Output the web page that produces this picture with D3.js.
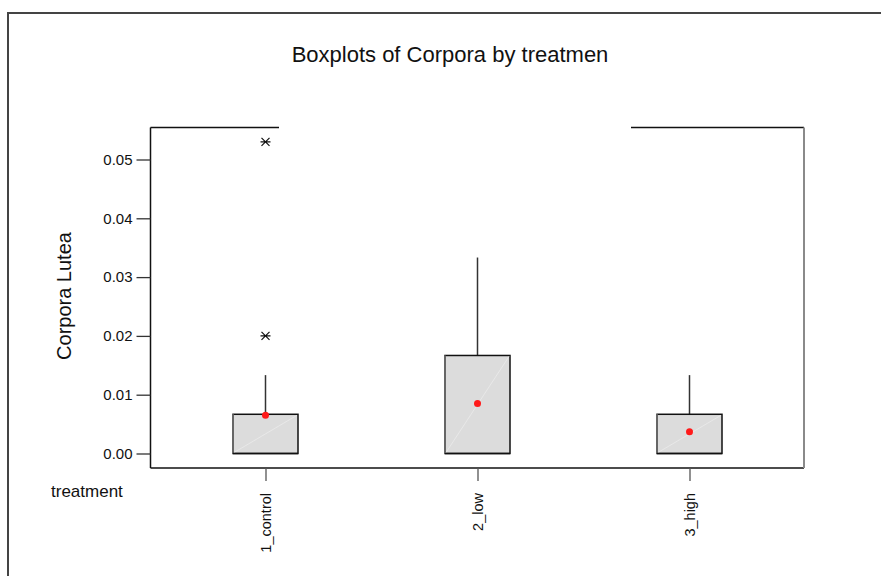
<!DOCTYPE html>
<html>
<head>
<meta charset="utf-8">
<script src="https://cdn.jsdelivr.net/npm/d3@7"></script>
<style>
  html, body { margin: 0; padding: 0; background: #fff; overflow: hidden; }
  svg { display: block; font-family: "Liberation Sans", Arial, sans-serif; }
</style>
</head>
<body>
<svg id="chart" width="881" height="576"></svg>
<script>
// Corpora lutea by treatment group
const categories = ["1_control", "2_low", "3_high"];
const q1 = [0, 0, 0];
const median = [0, 0, 0];
const q3 = [0.00667, 0.01667, 0.00667];
const whiskerLow = [0, 0, 0];
const whiskerHigh = [0.01333, 0.03333, 0.01333];
const means = [0.0065, 0.0085, 0.0037];
const outlierCats = ["1_control", "1_control"];
const outlierValues = [0.053, 0.02];
const yTicks = [0, 0.01, 0.02, 0.03, 0.04, 0.05];

const svg = d3.select("#chart");

// Layout
const frame = { left: 150.5, right: 804, top: 127.5, bottom: 468 };
const boxWidth = 65;

const y = d3.scaleLinear().domain([0, 0.05]).range([453.5, 159.5]);
const x = d3.scalePoint().domain(categories).range([265.5, 689.5]);

// Outer border (runs off the right and bottom edges)
svg.append("path")
  .attr("d", "M8,600 L8,13 L900,13")
  .attr("fill", "none")
  .attr("stroke", "#444")
  .attr("stroke-width", 2);

// Title
svg.append("text")
  .attr("x", 450).attr("y", 62)
  .attr("text-anchor", "middle")
  .attr("font-size", 22)
  .attr("fill", "#111")
  .text("Boxplots of Corpora by treatmen");

// Plot frame
const fr = svg.append("g");
fr.append("line").attr("x1", frame.left).attr("x2", frame.left)
  .attr("y1", frame.top).attr("y2", frame.bottom)
  .attr("stroke", "#111").attr("stroke-width", 1.5);
fr.append("line").attr("x1", frame.left).attr("x2", 279)
  .attr("y1", frame.top).attr("y2", frame.top)
  .attr("stroke", "#111").attr("stroke-width", 1.5);
fr.append("line").attr("x1", 631).attr("x2", frame.right)
  .attr("y1", frame.top).attr("y2", frame.top)
  .attr("stroke", "#111").attr("stroke-width", 1.5);
fr.append("line").attr("x1", frame.left).attr("x2", frame.right)
  .attr("y1", frame.bottom).attr("y2", frame.bottom)
  .attr("stroke", "#111").attr("stroke-width", 1.5);
fr.append("line").attr("x1", frame.right).attr("x2", frame.right)
  .attr("y1", frame.top).attr("y2", frame.bottom)
  .attr("stroke", "#8a8a8a").attr("stroke-width", 2);

// Y axis
const yAxis = svg.append("g")
  .attr("transform", `translate(${frame.left},0)`)
  .call(d3.axisLeft(y).tickValues(yTicks).tickFormat(d3.format(".2f"))
    .tickSize(14).tickPadding(4));
yAxis.select(".domain").remove();
yAxis.selectAll(".tick line").attr("stroke", "#333").attr("stroke-width", 1.3);
yAxis.selectAll(".tick text")
  .attr("font-size", 15)
  .attr("font-family", "'Liberation Sans', Arial, sans-serif")
  .attr("fill", "#111");

// X axis
const xAxis = svg.append("g")
  .attr("transform", `translate(0,${frame.bottom})`)
  .call(d3.axisBottom(x).tickSize(13).tickFormat(""));
xAxis.select(".domain").remove();
xAxis.selectAll(".tick line").attr("stroke", "#555").attr("stroke-width", 1.3);

svg.selectAll(".xlab")
  .data(categories)
  .join("text")
  .attr("class", "xlab")
  .attr("transform", d => `translate(${x(d) + 5},493) rotate(-90)`)
  .attr("text-anchor", "end")
  .attr("font-size", 14.5)
  .attr("fill", "#111")
  .text(d => d);

// Axis titles
svg.append("text")
  .attr("transform", "translate(71,296) rotate(-90)")
  .attr("text-anchor", "middle")
  .attr("font-size", 20)
  .attr("fill", "#111")
  .text("Corpora Lutea");

svg.append("text")
  .attr("x", 51).attr("y", 497)
  .attr("font-size", 17)
  .attr("fill", "#111")
  .text("treatment");

// Boxes
const rows = categories.map((c, i) => ({
  cat: c, q1: q1[i], med: median[i], q3: q3[i],
  lo: whiskerLow[i], hi: whiskerHigh[i], mean: means[i]
}));

const g = svg.append("g");

// upper whiskers
g.selectAll(".whisk-hi").data(rows).join("line")
  .attr("x1", d => x(d.cat)).attr("x2", d => x(d.cat))
  .attr("y1", d => y(d.q3)).attr("y2", d => y(d.hi))
  .attr("stroke", "#333").attr("stroke-width", 1.5);
// lower whiskers
g.selectAll(".whisk-lo").data(rows).join("line")
  .attr("x1", d => x(d.cat)).attr("x2", d => x(d.cat))
  .attr("y1", d => y(d.q1)).attr("y2", d => y(d.lo))
  .attr("stroke", "#333").attr("stroke-width", 1.5);

g.selectAll(".box").data(rows).join("rect")
  .attr("x", d => x(d.cat) - boxWidth / 2)
  .attr("y", d => y(d.q3))
  .attr("width", boxWidth)
  .attr("height", d => y(d.q1) - y(d.q3))
  .attr("fill", "#dcdcdc")
  .attr("stroke", "#111")
  .attr("stroke-width", 1.5);

// shaded left edge of each box
g.selectAll(".box-edge").data(rows).join("line")
  .attr("x1", d => x(d.cat) - boxWidth / 2).attr("x2", d => x(d.cat) - boxWidth / 2)
  .attr("y1", d => y(d.q3)).attr("y2", d => y(d.q1))
  .attr("stroke", "#666").attr("stroke-width", 2);

// faint diagonal sheen inside the boxes
g.selectAll(".sheen").data(rows).join("line")
  .attr("x1", d => x(d.cat) - boxWidth / 2 + 1).attr("y1", d => y(d.q1) - 1)
  .attr("x2", d => x(d.cat) + boxWidth / 2 - 1).attr("y2", d => y(d.q3) + 1)
  .attr("stroke", "#ebebeb").attr("stroke-width", 0.8);

// medians
g.selectAll(".median").data(rows).join("line")
  .attr("x1", d => x(d.cat) - boxWidth / 2).attr("x2", d => x(d.cat) + boxWidth / 2)
  .attr("y1", d => y(d.med)).attr("y2", d => y(d.med))
  .attr("stroke", "#111").attr("stroke-width", 1.5);

// mean markers
g.selectAll(".mean").data(rows).join("circle")
  .attr("cx", d => x(d.cat)).attr("cy", d => y(d.mean))
  .attr("r", 3.5)
  .attr("fill", "#ff1a1a");

// outliers drawn as asterisks
const star = (cx, cy) => {
  const h = 5, dx = 4, dy = 4;
  return `M${cx - h},${cy} L${cx + h},${cy} ` +
         `M${cx - dx},${cy - dy} L${cx + dx},${cy + dy} ` +
         `M${cx - dx},${cy + dy} L${cx + dx},${cy - dy}`;
};
g.selectAll(".outlier").data(outlierValues.map((v, i) => ({ cat: outlierCats[i], v })))
  .join("path")
  .attr("d", d => star(x(d.cat), y(d.v)))
  .attr("stroke", "#111").attr("stroke-width", 1.2).attr("fill", "none");
</script>
</body>
</html>
